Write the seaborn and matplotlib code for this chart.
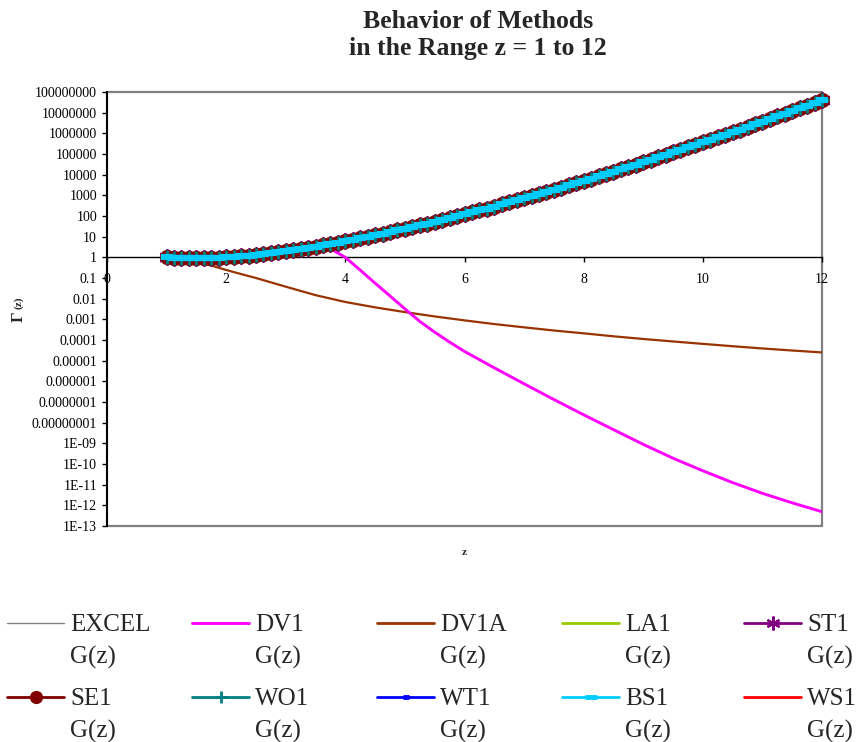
import matplotlib
matplotlib.use("Agg")
import matplotlib.pyplot as plt
from matplotlib.lines import Line2D
from matplotlib.ticker import FixedLocator, FixedFormatter, NullLocator
import seaborn as sns

# ---------------- data ----------------
Z = [1.0, 1.125, 1.25, 1.375, 1.5, 1.625, 1.75, 1.875,
     2.0, 2.125, 2.25, 2.375, 2.5, 2.625, 2.75, 2.875,
     3.0, 3.125, 3.25, 3.375, 3.5, 3.625, 3.75, 3.875,
     4.0, 4.125, 4.25, 4.375, 4.5, 4.625, 4.75, 4.875,
     5.0, 5.125, 5.25, 5.375, 5.5, 5.625, 5.75, 5.875,
     6.0, 6.125, 6.25, 6.375, 6.5, 6.625, 6.75, 6.875,
     7.0, 7.125, 7.25, 7.375, 7.5, 7.625, 7.75, 7.875,
     8.0, 8.125, 8.25, 8.375, 8.5, 8.625, 8.75, 8.875,
     9.0, 9.125, 9.25, 9.375, 9.5, 9.625, 9.75, 9.875,
     10.0, 10.125, 10.25, 10.375, 10.5, 10.625, 10.75, 10.875,
     11.0, 11.125, 11.25, 11.375, 11.5, 11.625, 11.75, 11.875,
     12.0]

GAMMA = [1.0, 0.9417, 0.9064, 0.8889, 0.8862, 0.8966, 0.9191, 0.9534,
         1.0, 1.0595, 1.1330, 1.2223, 1.3293, 1.4569, 1.6084, 1.7877,
         2.0, 2.2514, 2.5493, 2.9028, 3.3234, 3.8244, 4.4230, 5.1397,
         6.0, 7.0355, 8.2851, 9.7971, 11.632, 13.864, 16.586, 19.916,
         24.0, 29.021, 35.212, 42.862, 52.343, 64.119, 78.784, 97.092,
         120.0, 148.73, 184.86, 230.39, 287.89, 360.67, 453.01, 570.42,
         720.0, 911.0, 1155.4, 1468.7, 1871.3, 2389.5, 3057.8, 3921.6,
         5040.0, 6490.9, 8376.5, 10832, 14034, 18220, 23698, 30883,
         40320, 52738, 69106, 90716, 119292, 157144, 207358, 274084,
         362880, 481234, 639231, 850463, 1133278, 1512511, 2021741, 2706580,
         3628800, 4872494, 6552118, 8823554, 11899423, 16070429, 21733716, 29434058,
         39916800]

# methods that coincide with the reference Gamma curve
EXCEL = GAMMA
LA1 = GAMMA
ST1 = GAMMA
SE1 = GAMMA
WO1 = GAMMA
WT1 = GAMMA
BS1 = GAMMA
WS1 = GAMMA

DV1_Z = [1, 1.5, 2, 2.5, 3, 3.25, 3.5, 3.75, 4, 4.25, 4.5, 4.75, 5, 5.25, 5.5,
         5.75, 6, 6.5, 7, 7.5, 8, 8.5, 9, 9.5, 10, 10.5, 11, 11.5, 12]
DV1 = [1.0, 0.886, 1.0, 1.33, 2.0, 2.3, 2.6, 2.6, 1.0, 0.24, 0.056, 0.0135, 0.0032,
       7.9e-4, 2.4e-4, 7.9e-5, 2.8e-5, 4.5e-6, 7.6e-7, 1.32e-7, 2.4e-8, 4.6e-9,
       8.9e-10, 1.9e-10, 4.7e-11, 1.26e-11, 3.8e-12, 1.32e-12, 4.9e-13]

DV1A_Z = [1, 1.25, 1.5, 1.75, 2, 2.25, 2.5, 3, 3.5, 4, 4.5, 5, 5.5, 6, 6.5, 7,
          7.5, 8, 8.5, 9, 9.5, 10, 10.5, 11, 11.5, 12]
DV1A = [1.0, 0.79, 0.6, 0.4, 0.245, 0.155, 0.1, 0.038, 0.0148, 0.0069, 0.0038,
        0.00224, 0.00138, 0.00089, 0.00059, 0.00041, 0.000288, 0.00021,
        0.000151, 0.000112, 8.5e-5, 6.5e-5, 5.0e-5, 3.9e-5, 3.1e-5, 2.5e-5]

X_TICKS = [0, 2, 4, 6, 8, 10, 12]
X_TICK_LABELS = ["0", "2", "4", "6", "8", "10", "12"]
Y_TICKS = [1e8, 1e7, 1e6, 1e5, 1e4, 1e3, 1e2, 1e1, 1e0, 1e-1, 1e-2, 1e-3, 1e-4,
           1e-5, 1e-6, 1e-7, 1e-8, 1e-9, 1e-10, 1e-11, 1e-12, 1e-13]
Y_TICK_LABELS = ["100000000", "10000000", "1000000", "100000", "10000", "1000",
                 "100", "10", "1", "0.1", "0.01", "0.001", "0.0001", "0.00001",
                 "0.000001", "0.0000001", "0.00000001", "1E-09", "1E-10",
                 "1E-11", "1E-12", "1E-13"]

LEGEND_NAMES = ["EXCEL", "DV1", "DV1A", "LA1", "ST1",
                "SE1", "WO1", "WT1", "BS1", "WS1"]
TITLE = "Behavior of Methods\nin the Range z = 1 to 12"

# ---------------- styling ----------------
sns.set_style("white")
plt.rcParams["font.family"] = ["Liberation Serif", "DejaVu Serif"]

W, H = 859, 742
fig = plt.figure(figsize=(W / 100, H / 100), dpi=100)
ax = fig.add_axes([107 / W, 1 - 526 / H, (822 - 107) / W, (526 - 92) / H])

C = {
    "EXCEL": "#808080", "DV1": "#FF00FF", "DV1A": "#993300", "LA1": "#99CC00",
    "ST1": "#800080", "SE1": "#800000", "WO1": "#008080", "WT1": "#0000FF",
    "BS1": "#00CCFF", "WS1": "#FF0000",
}
STAR = (6, 2, 0)

sns.lineplot(x=DV1A_Z, y=DV1A, ax=ax, color=C["DV1A"], lw=1.6, zorder=2.0, legend=False)
sns.lineplot(x=DV1_Z, y=DV1, ax=ax, color=C["DV1"], lw=2.1, zorder=2.05, legend=False)
sns.lineplot(x=Z, y=EXCEL, ax=ax, color=C["EXCEL"], lw=1, zorder=2.1, legend=False)
sns.lineplot(x=Z, y=LA1, ax=ax, color=C["LA1"], lw=1.6, zorder=2.1, legend=False)
sns.lineplot(x=Z, y=WS1, ax=ax, color=C["WS1"], lw=1.6, zorder=2.1, legend=False)
sns.lineplot(x=Z, y=WT1, ax=ax, color=C["WT1"], lw=1.6, zorder=2.1, legend=False)
sns.lineplot(x=Z, y=ST1, ax=ax, color=C["ST1"], lw=1.6, marker=STAR, markersize=12,
             markeredgewidth=1.3, markeredgecolor=C["ST1"], zorder=2.2,
             clip_on=False, legend=False)
sns.lineplot(x=Z, y=SE1, ax=ax, color=C["SE1"], lw=1.6, marker="o", markersize=10.5,
             markeredgewidth=0.5, markeredgecolor=C["SE1"], markerfacecolor=C["SE1"],
             zorder=2.3, clip_on=False, legend=False)
sns.lineplot(x=Z, y=WO1, ax=ax, color=C["WO1"], lw=1.6, marker="+", markersize=10.5,
             markeredgewidth=2, markeredgecolor=C["WO1"], zorder=2.4,
             clip_on=False, legend=False)
sns.lineplot(x=Z, y=BS1, ax=ax, color=C["BS1"], lw=2, marker="_", markersize=9,
             markeredgewidth=4.5, markeredgecolor=C["BS1"], zorder=2.5,
             clip_on=False, legend=False)

ax.set_yscale("log")
ax.set_xlim(0, 12)
ax.set_ylim(1e-13, 1e8)
ax.xaxis.set_major_locator(FixedLocator(X_TICKS))
ax.xaxis.set_major_formatter(FixedFormatter(X_TICK_LABELS))
ax.yaxis.set_major_locator(FixedLocator(Y_TICKS))
ax.yaxis.set_major_formatter(FixedFormatter(Y_TICK_LABELS))
ax.yaxis.set_minor_locator(NullLocator())
ax.xaxis.set_minor_locator(NullLocator())

ax.tick_params(axis="both", which="major", direction="out", length=3.6, width=1,
               color="black", labelsize=10, labelcolor="black",
               bottom=True, left=True, top=False, right=False)
ax.tick_params(axis="x", pad=7.5)
ax.tick_params(axis="y", pad=3.6)

ax.spines["top"].set_visible(False)
ax.spines["right"].set_visible(False)
ax.spines["left"].set_color("black")
ax.spines["left"].set_linewidth(1.4)
ax.spines["bottom"].set_position(("data", 1))
ax.spines["bottom"].set_color("black")
ax.spines["bottom"].set_linewidth(1)
ax.spines["bottom"].set_zorder(1.5)
ax.patch.set_edgecolor("#808080")
ax.patch.set_linewidth(1.6)
ax.patch.set_facecolor("white")

ax.set_xlabel("z", fontsize=8, fontweight="bold")
ax.xaxis.set_label_coords(0.5, -(548 - 526) / 434)
ax.set_ylabel("")

fig.text(19 / W, 1 - 317 / H, "Γ", rotation=90, fontsize=12, fontweight="bold",
         ha="center", va="center")
fig.text(19 / W, 1 - 303 / H, "(z)", rotation=90, fontsize=8, fontweight="bold",
         ha="center", va="center")

fig.text(478 / W, 1 - 10 / H, TITLE, ha="center", va="top", fontsize=18.5,
         fontweight="bold", linespacing=1.2)

# ---------------- legend (10 entries, 2 rows x 5 columns) ----------------
handle_kw = {
    "EXCEL": dict(color=C["EXCEL"], lw=1),
    "DV1": dict(color=C["DV1"], lw=2.1),
    "DV1A": dict(color=C["DV1A"], lw=2),
    "LA1": dict(color=C["LA1"], lw=2),
    "ST1": dict(color=C["ST1"], lw=2, marker=STAR, markersize=10, markeredgewidth=1.6,
                markeredgecolor=C["ST1"]),
    "SE1": dict(color=C["SE1"], lw=2, marker="o", markersize=8.5,
                markeredgecolor=C["SE1"], markerfacecolor=C["SE1"]),
    "WO1": dict(color=C["WO1"], lw=2, marker="+", markersize=9, markeredgewidth=2,
                markeredgecolor=C["WO1"]),
    "WT1": dict(color=C["WT1"], lw=2, marker="_", markersize=5, markeredgewidth=3.5,
                markeredgecolor=C["WT1"]),
    "BS1": dict(color=C["BS1"], lw=2, marker="_", markersize=9, markeredgewidth=3.5,
                markeredgecolor=C["BS1"]),
    "WS1": dict(color=C["WS1"], lw=2),
}
LEG_FS = 18
HANDLE_X = [7, 192, 377, 562, 744]
ROW_Y = [625, 699]
G_BASE = [664, 738]
for i, name in enumerate(LEGEND_NAMES):
    r, c = divmod(i, 5)
    h = Line2D([], [], **handle_kw[name])
    fig.legend(handles=[h], labels=[name], loc="center left",
               bbox_to_anchor=(HANDLE_X[c] / W, 1 - ROW_Y[r] / H),
               frameon=False, borderpad=0, borderaxespad=0,
               handlelength=57 / 25.0, handletextpad=6 / 25.0, fontsize=LEG_FS)
    fig.text((HANDLE_X[c] + 63) / W, 1 - G_BASE[r] / H, "G(z)", fontsize=LEG_FS,
             ha="left", va="baseline")

fig.savefig("out.png", dpi=100)
